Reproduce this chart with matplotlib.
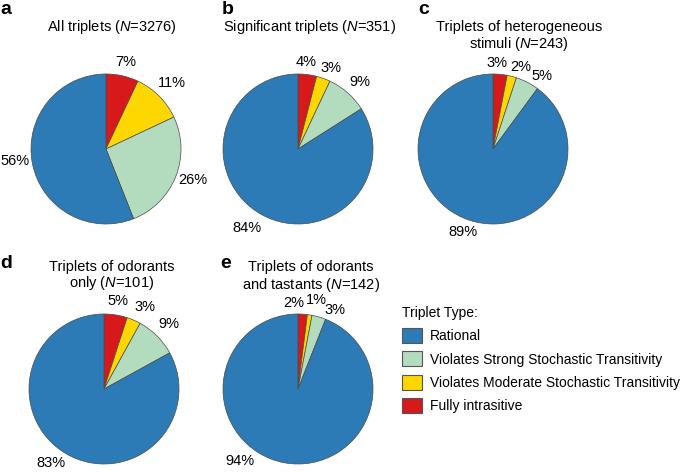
import numpy as np
import matplotlib
matplotlib.use('Agg')
import matplotlib.pyplot as plt
from matplotlib.patches import Patch

plt.rcParams['font.family'] = ['Liberation Sans', 'DejaVu Sans']
plt.rcParams['mathtext.fontset'] = 'custom'
plt.rcParams['mathtext.it'] = 'Liberation Sans:italic'
plt.rcParams['mathtext.rm'] = 'Liberation Sans'

# Wedge order (clockwise from 12 o'clock)
categories = ['Fully intrasitive',
              'Violates Moderate Stochastic Transitivity',
              'Violates Strong Stochastic Transitivity',
              'Rational']
colors = ['#d7191c', '#ffd700', '#b3dcbe', '#2c7bb6']

pct_a = [7, 11, 26, 56]
pct_b = [4, 3, 9, 84]
pct_c = [3, 2, 5, 89]
pct_d = [5, 3, 9, 83]
pct_e = [2, 1, 3, 94]

letters = ['a', 'b', 'c', 'd', 'e']
title_lines = [
    ['All triplets ($N$=3276)'],
    ['Significant triplets ($N$=351)'],
    ['Triplets of heterogeneous', 'stimuli ($N$=243)'],
    ['Triplets of odorants', 'only ($N$=101)'],
    ['Triplets of odorants', 'and tastants ($N$=142)'],
]
data = [pct_a, pct_b, pct_c, pct_d, pct_e]

legend_order = [3, 2, 1, 0]

W, H = 685, 472
fig = plt.figure(figsize=(W / 100, H / 100), dpi=100)

# layout (pixels): pie centers, radius, title centres, letter positions
centers = [(106, 149), (298, 149), (493, 149), (104, 389), (298, 389)]
R = 75
lim = 1.4
title_pos = [(112, 27), (310, 27), (519, 27), (112, 267), (311, 267)]
title_gap = [17, 17, 17, 16.5, 17.5]
letter_pos = [(0, 14), (222, 14), (418, 14), (0, 268), (220, 268)]
# label placement: (angle shift in degrees from wedge middle, radius factor)
label_place = [
    [(0, 1.19), (0, 1.25), (2, 1.23), (-3, 1.22)],
    [(2, 1.17), (-2, 1.17), (-1.5, 1.22), (-4, 1.26)],
    [(3, 1.15), (-4, 1.15), (-6.5, 1.17), (-2, 1.18)],
    [(0, 1.19), (-3, 1.22), (0, 1.22), (-5, 1.22)],
    [(6.5, 1.15), (-3, 1.21), (-9, 1.16), (-28, 1.24)],
]

for i, vals in enumerate(data):
    cx, cy = centers[i]
    size = 2 * lim * R
    ax = fig.add_axes([(cx - size / 2) / W, (H - cy - size / 2) / H, size / W, size / H])
    wedges, texts = ax.pie(vals, colors=colors, startangle=90, counterclock=False,
                           labels=[f'{v}%' for v in vals], labeldistance=1.2,
                           normalize=True,
                           wedgeprops=dict(edgecolor='#4a4a4a', linewidth=0.5),
                           textprops=dict(fontsize=10.5))
    for w, t, (dth, r) in zip(wedges, texts, label_place[i]):
        th = np.deg2rad((w.theta1 + w.theta2) / 2 + dth)
        t.set_position((r * np.cos(th), r * np.sin(th)))
        t.set_ha('center')
        t.set_va('center')
    ax.set_xlim(-lim, lim)
    ax.set_ylim(-lim, lim)
    ax.set_aspect('equal')
    ax.axis('off')

    tx, ty = title_pos[i]
    for j, line in enumerate(title_lines[i]):
        fig.text(tx / W, 1 - (ty + j * title_gap[i]) / H, line, ha='center', va='center',
                 fontsize=10.5)
    lx, ly = letter_pos[i]
    fig.text(lx / W, 1 - ly / H, letters[i], ha='left', va='baseline', fontsize=14,
             fontweight='bold')

handles = [Patch(facecolor=colors[k], edgecolor='#555555', linewidth=0.8) for k in legend_order]
labels = [categories[k] for k in legend_order]
fs = 10
fs_px = fs * 100 / 72
leg = fig.legend(handles, labels, title='Triplet Type:', loc='upper left',
                 bbox_to_anchor=(402 / W, 1 - 306 / H), frameon=False,
                 fontsize=fs, title_fontsize=fs, alignment='left',
                 handlelength=20 / fs_px, handleheight=18 / fs_px,
                 handletextpad=8 / fs_px, labelspacing=0.58, borderpad=0,
                 borderaxespad=0)

fig.savefig('out.png', dpi=100)
